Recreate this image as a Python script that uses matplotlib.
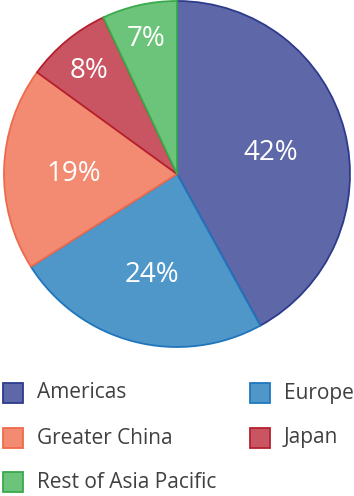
import matplotlib.pyplot as plt
from matplotlib.patches import Rectangle
import numpy as np

regions = ["Americas", "Europe", "Greater China", "Japan", "Rest of Asia Pacific"]
shares = [42, 24, 19, 8, 7]
fills = ["#5e68a8", "#5097c9", "#f28b72", "#c95462", "#6cc47a"]
edges = ["#2e3a8c", "#1f76bd", "#ee6a4a", "#b5202e", "#3aaa4a"]
label_dist = [0.56, 0.58, 0.6, 0.8, 0.82]

plt.rcParams["font.family"] = ["Open Sans", "DejaVu Sans"]

W, H = 354, 496
fig = plt.figure(figsize=(W / 100, H / 100), dpi=100)

cx, cy, r = 177, 174, 173
lim = 1.01
rr = r * lim
ax = fig.add_axes([(cx - rr) / W, 1 - (cy + rr) / H, 2 * rr / W, 2 * rr / H])
wedges, _ = ax.pie(shares, colors=fills, startangle=90, counterclock=False,
                   radius=1, wedgeprops=dict(linewidth=1.3))
for w, ec in zip(wedges, edges):
    w.set_edgecolor(ec)

for w, s, d in zip(wedges, shares, label_dist):
    mid = np.deg2rad((w.theta1 + w.theta2) / 2)
    ax.text(d * np.cos(mid), d * np.sin(mid), f"{s}%", ha="center", va="center_baseline",
            color="white", fontsize=20)
ax.set_xlim(-lim, lim)
ax.set_ylim(-lim, lim)
ax.set_aspect("equal")
ax.axis("off")

# legend drawn by hand, two columns
lax = fig.add_axes([0, 0, 1, 1])
lax.set_xlim(0, W)
lax.set_ylim(H, 0)
lax.axis("off")
slots = [(2, 393), (249, 393), (2, 438), (249, 438), (2, 482)]
for (x, y), name, fc, ec in zip(slots, regions, fills, edges):
    lax.add_patch(Rectangle((x + 1, y - 10), 20, 20, facecolor=fc, edgecolor=ec, linewidth=1.3))
    lax.text(x + 35, y, name, va="center", ha="left", fontsize=15, color="#404040")

fig.savefig("out.png", dpi=100)
